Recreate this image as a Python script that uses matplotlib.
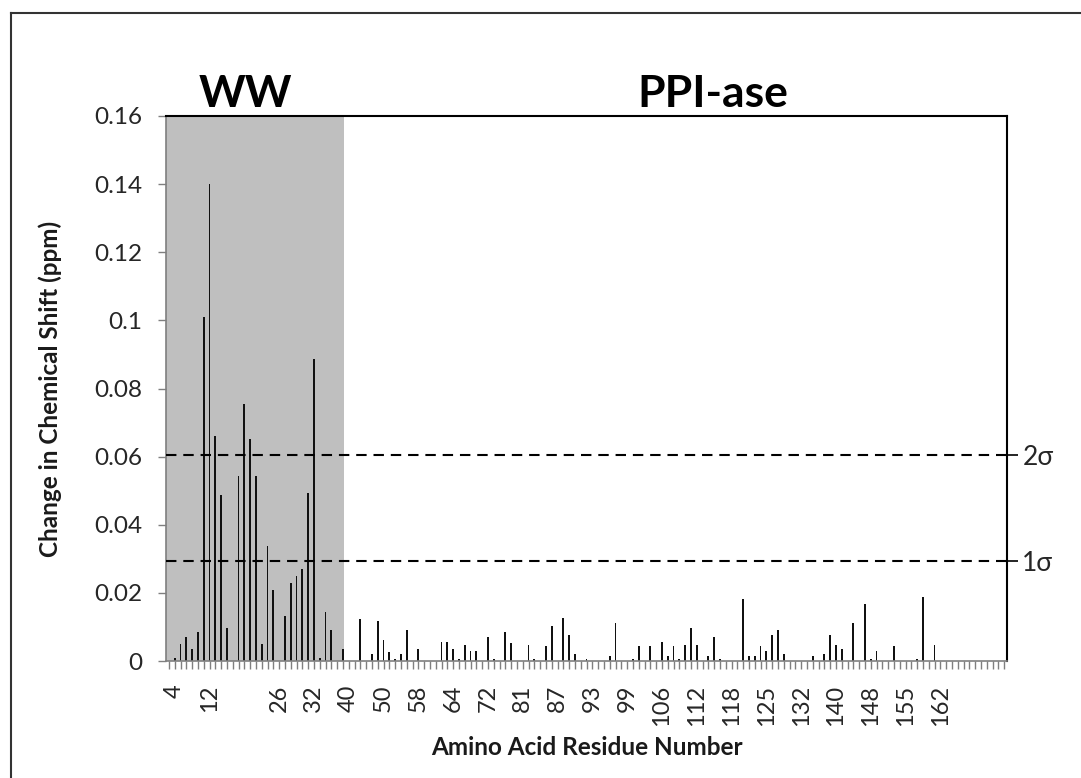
import matplotlib
matplotlib.use("Agg")
import matplotlib.pyplot as plt
from matplotlib.lines import Line2D
from matplotlib.ticker import FuncFormatter, FixedLocator

plt.rcParams['font.family'] = ['Lato', 'DejaVu Sans']

# Chemical shift change per residue slot (ppm); slots follow the assigned residues in order
shift_values = [
    0.0, 0.001, 0.0049, 0.007, 0.0035, 0.0084, 0.101, 0.140, 0.066, 0.0488,
    0.0098, 0.0, 0.0542, 0.0754, 0.0653, 0.0542, 0.0049, 0.0338, 0.0208, 0.0,
    0.0132, 0.023, 0.025, 0.0269, 0.0494, 0.0886, 0.001, 0.0143, 0.009, 0.0,
    0.0036, 0.0, 0.0, 0.0124, 0.0, 0.002, 0.0117, 0.0062, 0.0027, 0.0007,
    0.002, 0.0091, 0.0, 0.0035, 0.0, 0.0, 0.0, 0.0055, 0.0055, 0.0035,
    0.0007, 0.0048, 0.0028, 0.0028, 0.0, 0.0069, 0.0007, 0.0, 0.0084, 0.0054,
    0.0, 0.0, 0.0048, 0.0007, 0.0, 0.0043, 0.0104, 0.0, 0.0126, 0.0076,
    0.002, 0.0, 0.0007, 0.0, 0.0, 0.0, 0.0015, 0.0112, 0.0, 0.0,
    0.0007, 0.0043, 0.0, 0.0043, 0.0, 0.0056, 0.0015, 0.0043, 0.0007, 0.0048,
    0.0097, 0.0048, 0.0, 0.0015, 0.0069, 0.0007, 0.0, 0.0, 0.0, 0.0181,
    0.0015, 0.0015, 0.0043, 0.0028, 0.0076, 0.0091, 0.0022, 0.0, 0.0, 0.0,
    0.0, 0.0015, 0.0, 0.0022, 0.0076, 0.0048, 0.0035, 0.0, 0.0111, 0.0,
    0.0166, 0.0007, 0.0028, 0.0, 0.0, 0.0043, 0.0, 0.0, 0.0, 0.0007,
    0.0188, 0.0, 0.0048, 0.0, 0.0, 0.0, 0.0, 0.0, 0.0, 0.0,
    0.0, 0.0, 0.0, 0.0, 0.0,
]

# Residue numbers shown under every sixth slot, starting at slot 1
residue_labels = ['4', '12', '', '26', '32', '40', '50', '58', '64', '72', '81',
                  '87', '93', '99', '106', '112', '118', '125', '132', '140',
                  '148', '155', '162']
label_first_slot = 1
label_step = 6

# Threshold levels (mean + n standard deviations)
sigma_levels = [0.0606, 0.0293]
sigma_labels = ['2σ', '1σ']

# Extent of the WW domain along the slot axis
ww_last_slot = 30

domain_titles = ['WW', 'PPI-ase']

y_ticks = [0, 0.02, 0.04, 0.06, 0.08, 0.1, 0.12, 0.14, 0.16]

fig = plt.figure(figsize=(10.81, 7.78), dpi=100)
ax = fig.add_axes([166 / 1081, 1 - 661 / 778, (1007 - 166) / 1081, (661 - 116) / 778])

n = len(shift_values)
slots = list(range(n))

ax.axvspan(-0.5, ww_last_slot + 0.2, color='#bfbfbf', lw=0, zorder=0)
ax.bar(slots, shift_values, width=0.3, color='#111111', zorder=2)

for lvl in sigma_levels:
    ax.axhline(lvl, color='black', lw=1.5, ls=(0, (5, 3.3)), zorder=3)

ax.set_xlim(-0.5, n - 0.5)
ax.set_ylim(0, 0.16)

ax.set_xticks(slots, minor=True)
ax.xaxis.set_major_locator(FixedLocator(
    [label_first_slot + i * label_step for i in range(len(residue_labels))]))
ax.set_xticklabels(residue_labels, rotation=90, fontsize=17, color='#262626')
ax.tick_params(axis='x', which='both', direction='out', length=6, width=1,
               color='#7f7f7f')
ax.tick_params(axis='x', which='major', pad=11)

ax.set_yticks(y_ticks)
ax.yaxis.set_major_formatter(FuncFormatter(lambda v, p: '%g' % v))
ax.tick_params(axis='y', direction='out', length=6, width=1, color='#7f7f7f',
               labelsize=17.5, labelcolor='#262626', pad=11)

for s in ['left', 'bottom']:
    ax.spines[s].set_color('#7f7f7f')
    ax.spines[s].set_linewidth(1.2)
for s in ['top', 'right']:
    ax.spines[s].set_color('black')
    ax.spines[s].set_linewidth(1.5)

ax.set_xlabel('Amino Acid Residue Number', fontsize=17.5, fontweight='bold',
              color='#1a1a1a')
ax.set_ylabel('Change in Chemical Shift (ppm)', fontsize=17.5, fontweight='bold',
              color='#1a1a1a')
ax.xaxis.set_label_coords(0.5, -0.138)
ax.yaxis.set_label_coords(-0.124, 0.5)

# Sigma markers on the right-hand edge
ax2 = ax.twinx()
ax2.set_ylim(ax.get_ylim())
ax2.set_yticks(sigma_levels)
ax2.set_yticklabels(sigma_labels, fontsize=19, color='#262626')
ax2.tick_params(axis='y', direction='inout', length=16, width=1.2,
                color='black', pad=3)
for s in ax2.spines.values():
    s.set_visible(False)

# Domain titles above the plot
ax.text(13.1, 0.1605, domain_titles[0], ha='center', va='bottom',
        fontsize=32, fontweight='bold', color='black')
ax.text(93.8, 0.1605, domain_titles[1], ha='center', va='bottom',
        fontsize=32, fontweight='bold', color='black')

# Chart-area frame (top and left edges)
fig.add_artist(Line2D([11 / 1081, 1.0], [1 - 13 / 778, 1 - 13 / 778],
                      color='#333333', lw=1.5, transform=fig.transFigure))
fig.add_artist(Line2D([11 / 1081, 11 / 1081], [0.0, 1 - 13 / 778],
                      color='#333333', lw=1.5, transform=fig.transFigure))

fig.savefig('out.png', dpi=100)
